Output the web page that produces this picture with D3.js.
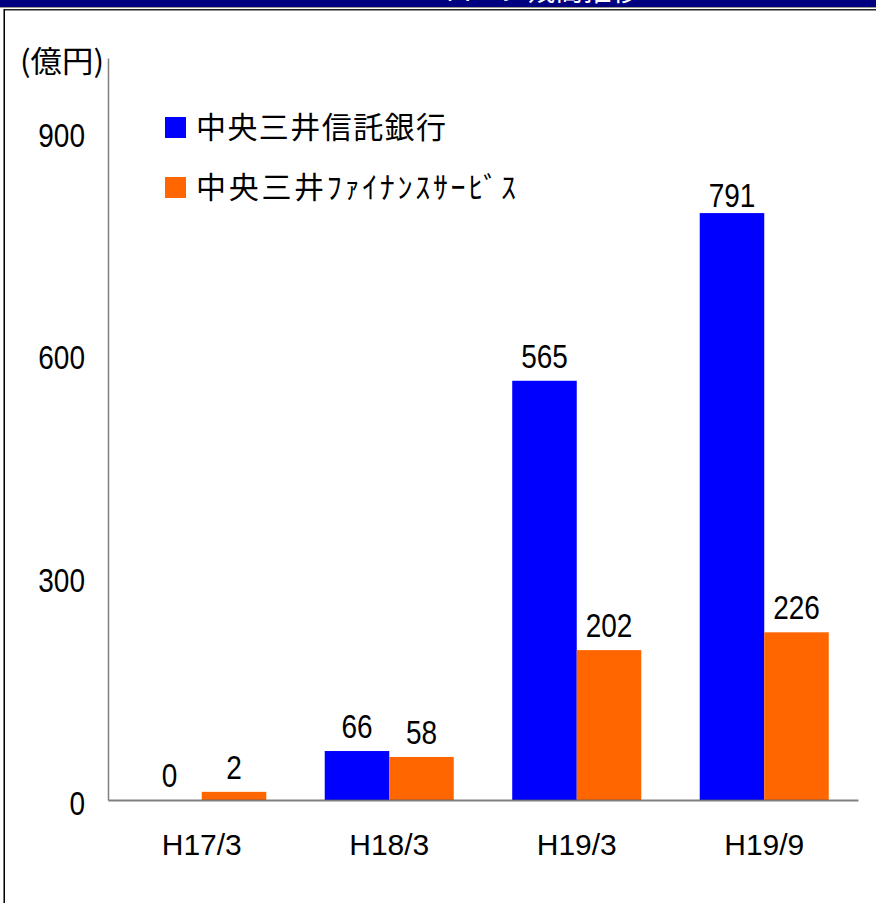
<!DOCTYPE html>
<html>
<head>
<meta charset="utf-8">
<script src="https://cdn.jsdelivr.net/npm/d3@7"></script>
<style>
    html, body { margin: 0; padding: 0; background: #fff; }
    svg { display: block; }
    .num { font-family: 'Liberation Sans', Arial, sans-serif; fill: #000; }
    .jp { font-family: 'Noto Sans CJK JP', sans-serif; fill: #000; }
</style>
</head>
<body>
<div id="chart"></div>
<script>
// data
const categories = ['H17/3', 'H18/3', 'H19/3', 'H19/9']
const seriesNames = ['中央三井信託銀行', '中央三井ﾌｧｲﾅﾝｽｻｰﾋﾞｽ']
// 棒の高さ (図から読んだ値)
const trustBank = [0, 66, 565, 791]
const financeService = [11, 58, 202, 226]
// 棒の上のラベル
const trustBankLabels = ['0', '66', '565', '791']
const financeServiceLabels = ['2', '58', '202', '226']
const yTicks = [0, 300, 600, 900]
const unitLabel = '(億円)'
const titleText = 'ローン残高推移'

const colors = ['#0000ff', '#ff6600']
const width = 876
const height = 903
const margin = { top: 58, right: 18, bottom: 103, left: 108 }
const stretch = 1.2 // 縦長の数字

const svg = d3.select(`#chart`).append(`svg`).attr(`width`, width).attr(`height`, height)

// 上の帯
svg.append(`rect`).attr(`x`, 0).attr(`y`, 0).attr(`width`, width).attr(`height`, 7).attr(`fill`, `#000080`)
svg.append(`clipPath`).attr(`id`, `bandClip`).append(`rect`).attr(`x`, 0).attr(`y`, 0).attr(`width`, width).attr(`height`, 7)
svg.append(`text`)
    .attr(`class`, `jp`)
    .attr(`x`, 542)
    .attr(`y`, 1)
    .attr(`text-anchor`, `middle`)
    .attr(`clip-path`, `url(#bandClip)`)
    .style(`font-size`, `28px`)
    .style(`fill`, `#fff`)
    .text(titleText)
svg.append(`line`).attr(`x1`, 0).attr(`x2`, width).attr(`y1`, 7.5).attr(`y2`, 7.5).attr(`stroke`, `#9a9a8a`)
svg.append(`line`).attr(`x1`, 3).attr(`x2`, width).attr(`y1`, 9.75).attr(`y2`, 9.75).attr(`stroke`, `#222`).attr(`stroke-width`, 1.5)
// 左の枠
svg.append(`line`).attr(`x1`, 3.5).attr(`x2`, 3.5).attr(`y1`, 9).attr(`y2`, height).attr(`stroke`, `#777`)
svg.append(`line`).attr(`x1`, 4.5).attr(`x2`, 4.5).attr(`y1`, 9).attr(`y2`, height).attr(`stroke`, `#000`)

const gWidth = width - margin.left - margin.right
const gHeight = height - margin.top - margin.bottom

const graph = svg.append(`g`).attr(`transform`, `translate(${margin.left}, ${margin.top})`)

const y = d3.scaleLinear().domain([0, 1000]).range([gHeight, 0])
const x0 = d3.scaleBand().domain(categories).range([0, gWidth]).padding(0)
const x1 = d3.scaleBand().domain(seriesNames).range([0, x0.bandwidth()]).paddingInner(0).paddingOuter(0.453)

const data = categories.map((c, i) => ({
    name: c,
    values: [trustBank[i], financeService[i]],
    labels: [trustBankLabels[i], financeServiceLabels[i]],
}))

// 棒
const groups = graph
    .selectAll(`g.group`)
    .data(data)
    .enter()
    .append(`g`)
    .attr(`class`, `group`)
    .attr(`transform`, (d) => `translate(${x0(d.name)}, 0)`)

groups
    .selectAll(`rect`)
    .data((d) => d.values.map((v, i) => ({ key: seriesNames[i], value: v, idx: i })))
    .enter()
    .append(`rect`)
    .attr(`x`, (d) => x1(d.key))
    .attr(`y`, (d) => y(d.value))
    .attr(`width`, x1.bandwidth())
    .attr(`height`, (d) => gHeight - y(d.value))
    .attr(`fill`, (d) => colors[d.idx])

// 値ラベル (上端はグラフ内に収める)
groups
    .selectAll(`text`)
    .data((d) => d.values.map((v, i) => ({ key: seriesNames[i], value: v, label: d.labels[i] })))
    .enter()
    .append(`text`)
    .attr(`class`, `num`)
    .attr(`text-anchor`, `middle`)
    .attr(`transform`, (d) => {
        const cx = x1(d.key) + x1.bandwidth() / 2
        const cy = Math.max(y(d.value) - 13, 149)
        return `translate(${cx}, ${cy}) scale(1, ${stretch})`
    })
    .style(`font-size`, `28px`)
    .text((d) => d.label)

// y軸
const yAxis = d3.axisLeft(y).tickValues(yTicks).tickSize(0).tickPadding(23)
const gYAxis = graph.append(`g`).call(yAxis)
gYAxis.select(`.domain`).attr(`stroke`, `#808080`).attr(`stroke-width`, 1.5)
gYAxis
    .selectAll(`text`)
    .attr(`class`, `num`)
    .attr(`font-family`, null)
    .attr(`dy`, null)
    .attr(`x`, null)
    .attr(`transform`, `translate(-23, 14) scale(1, ${stretch})`)
    .style(`font-size`, `28px`)

// x軸
const xAxis = d3.axisBottom(x0).tickSize(0).tickPadding(34)
const gXAxis = graph.append(`g`).attr(`transform`, `translate(0, ${gHeight})`).call(xAxis)
gXAxis.select(`.domain`).attr(`stroke`, `#606060`).attr(`stroke-width`, 2).attr(`stroke-opacity`, 0.8)
gXAxis
    .selectAll(`text`)
    .attr(`class`, `num`)
    .attr(`font-family`, null)
    .attr(`dy`, `0.71em`)
    .style(`font-size`, `30px`)

// 単位
svg.append(`text`)
    .attr(`class`, `jp`)
    .attr(`x`, 20)
    .attr(`y`, 72)
    .attr(`textLength`, 84)
    .attr(`lengthAdjust`, `spacingAndGlyphs`)
    .style(`font-size`, `30px`)
    .text(unitLabel)

// 凡例
const legendLen = [250, 320]
const legend = svg
    .selectAll(`g.legend`)
    .data(seriesNames)
    .enter()
    .append(`g`)
    .attr(`class`, `legend`)
    .attr(`transform`, (d, i) => `translate(165, ${117 + i * 60})`)
legend.append(`rect`).attr(`width`, 21).attr(`height`, 21).attr(`fill`, (d, i) => colors[i])
legend
    .append(`text`)
    .attr(`class`, `jp`)
    .attr(`x`, 31)
    .attr(`y`, 21)
    .attr(`textLength`, (d, i) => legendLen[i])
    .attr(`lengthAdjust`, `spacing`)
    .style(`font-size`, `30px`)
    .text((d) => d)
</script>
</body>
</html>
